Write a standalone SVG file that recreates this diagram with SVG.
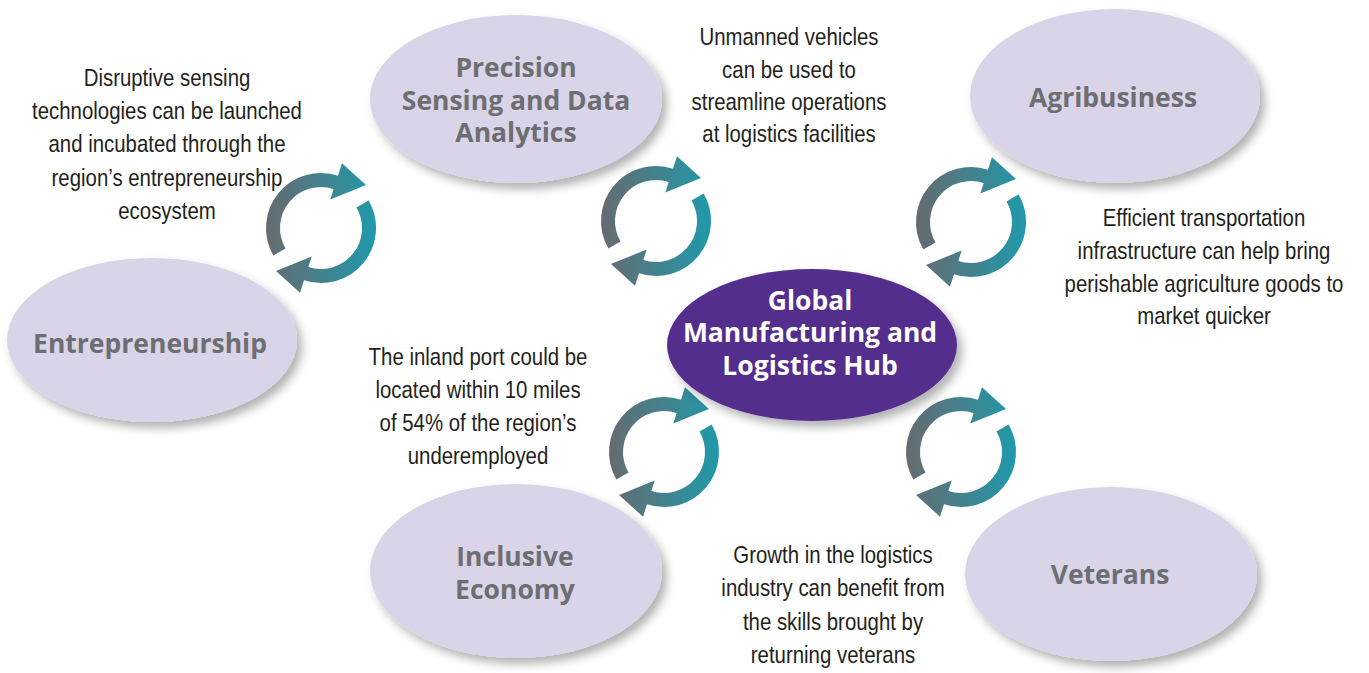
<svg xmlns="http://www.w3.org/2000/svg" xmlns:xlink="http://www.w3.org/1999/xlink" width="1369" height="673" viewBox="0 0 1369 673">
<style>
.bubble{fill:#d9d4e8;filter:url(#shadow)}
.hubshape{fill:#532f8c;filter:url(#shadow)}
.lbl{font-family:"Open Sans","Liberation Sans",sans-serif;font-weight:bold;font-size:26.5px;fill:#6d6e71;text-anchor:middle}
.hubtxt{fill:#ffffff}
.note{font-family:"Liberation Sans",Arial,sans-serif;font-size:24px;fill:#231f20;text-anchor:middle}
.arc{fill:none;stroke:url(#cyc);stroke-width:14}
.head{fill:url(#cyc)}
</style>
<defs>
<filter id="shadow" x="-20%" y="-20%" width="145%" height="150%">
<feDropShadow dx="5" dy="6" stdDeviation="5" flood-color="#000" flood-opacity="0.3"/>
</filter>
<linearGradient id="cyc" gradientUnits="userSpaceOnUse" x1="-56" y1="0" x2="56" y2="0">
<stop offset="0" stop-color="#676a6f"/>
<stop offset="1" stop-color="#1f9aab"/>
</linearGradient>
<g id="cycle">
<path class="arc" d="M -41.57 24 A 48 48 0 0 1 15.63 -45.38"/>
<polygon class="head" points="9.3,-28.5 21,-64.7 45,-43"/>
<path class="arc" d="M 41.57 -24 A 48 48 0 0 1 -15.63 45.38"/>
<polygon class="head" points="-9.3,28.5 -21,64.7 -45,43"/>
</g>
</defs>
<rect width="1369" height="673" fill="#ffffff"/>

<g id="connectors">
<use xlink:href="#cycle" transform="translate(321,228)"/>
<use xlink:href="#cycle" transform="translate(656,221)"/>
<use xlink:href="#cycle" transform="translate(971,222)"/>
<use xlink:href="#cycle" transform="translate(664,452)"/>
<use xlink:href="#cycle" transform="translate(961,452)"/>
</g>

<g id="node-precision">
<ellipse class="bubble" cx="516" cy="99" rx="146" ry="84"/>
<text class="lbl" x="516" y="77">Precision</text>
<text class="lbl" x="516" y="110">Sensing and Data</text>
<text class="lbl" x="516" y="142">Analytics</text>
</g>
<g id="node-agribusiness">
<ellipse class="bubble" cx="1115" cy="96" rx="145" ry="87"/>
<text class="lbl" x="1113" y="107">Agribusiness</text>
</g>
<g id="node-entrepreneurship">
<ellipse class="bubble" cx="152" cy="340" rx="145" ry="82"/>
<text class="lbl" x="150" y="353">Entrepreneurship</text>
</g>
<g id="node-inclusive">
<ellipse class="bubble" cx="516" cy="571" rx="146" ry="87"/>
<text class="lbl" x="515" y="566">Inclusive</text>
<text class="lbl" x="515" y="599">Economy</text>
</g>
<g id="node-veterans">
<ellipse class="bubble" cx="1111" cy="574" rx="146" ry="87"/>
<text class="lbl" x="1110" y="584">Veterans</text>
</g>
<g id="node-hub">
<ellipse class="hubshape" cx="812" cy="345" rx="145" ry="76"/>
<text class="lbl hubtxt" x="810" y="310">Global</text>
<text class="lbl hubtxt" x="810" y="342">Manufacturing and</text>
<text class="lbl hubtxt" x="810" y="375">Logistics Hub</text>
</g>

<g id="note-entrepreneurship" transform="translate(167,0) scale(0.85,1)">
<text class="note" x="0" y="86">Disruptive sensing</text>
<text class="note" x="0" y="119">technologies can be launched</text>
<text class="note" x="0" y="152">and incubated through the</text>
<text class="note" x="0" y="186">region’s entrepreneurship</text>
<text class="note" x="0" y="219">ecosystem</text>
</g>
<g id="note-precision" transform="translate(789,0) scale(0.85,1)">
<text class="note" x="0" y="45">Unmanned vehicles</text>
<text class="note" x="0" y="78">can be used to</text>
<text class="note" x="0" y="110">streamline operations</text>
<text class="note" x="0" y="142">at logistics facilities</text>
</g>
<g id="note-agribusiness" transform="translate(1204,0) scale(0.85,1)">
<text class="note" x="0" y="226">Efficient transportation</text>
<text class="note" x="0" y="259">infrastructure can help bring</text>
<text class="note" x="0" y="292">perishable agriculture goods to</text>
<text class="note" x="0" y="324">market quicker</text>
</g>
<g id="note-inclusive" transform="translate(478,0) scale(0.85,1)">
<text class="note" x="0" y="365">The inland port could be</text>
<text class="note" x="0" y="398">located within 10 miles</text>
<text class="note" x="0" y="431">of 54% of the region’s</text>
<text class="note" x="0" y="464">underemployed</text>
</g>
<g id="note-veterans" transform="translate(833,0) scale(0.85,1)">
<text class="note" x="0" y="563">Growth in the logistics</text>
<text class="note" x="0" y="596">industry can benefit from</text>
<text class="note" x="0" y="630">the skills brought by</text>
<text class="note" x="0" y="663">returning veterans</text>
</g>
</svg>
